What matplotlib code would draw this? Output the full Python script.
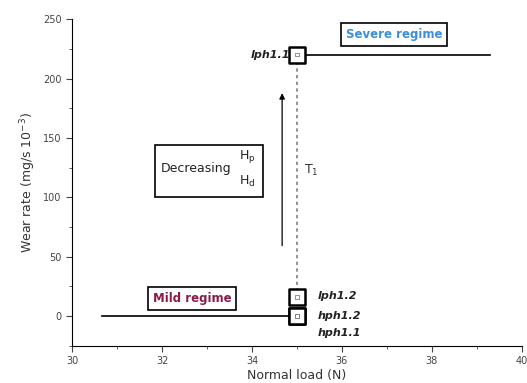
import matplotlib.pyplot as plt
from matplotlib.patches import Rectangle
from matplotlib.ticker import MultipleLocator

# data
severe_load = [35.0, 39.3]
severe_rate = [220, 220]
mild_load = [30.67, 35.0]
mild_rate = [0, 0]
sample_names = ["lph1.1", "lph1.2", "hph1.2", "hph1.1"]
sample_load = [35.0, 35.0, 35.0, 35.0]
sample_rate = [220, 16, 0, 0]
label_pos = [(34.85, 220), (35.45, 17), (35.45, 0), (35.45, -14)]
transition_load = 35.0

fig = plt.figure(figsize=(5.27, 3.83), dpi=100)
ax = fig.add_axes([0.137, 0.097, 0.853, 0.853])

ax.plot(severe_load, severe_rate, color="black", lw=1.2)
ax.plot(mild_load, mild_rate, color="black", lw=1.2)
ax.plot([transition_load, transition_load], [sample_rate[0], sample_rate[1]],
        color="gray", lw=1.2, ls=(0, (2, 2)))
ax.scatter(sample_load, sample_rate, marker="s", s=130, facecolors="white",
           edgecolors="black", linewidths=1.8, zorder=3)
ax.scatter(sample_load, sample_rate, marker="s", s=6, facecolors="none",
           edgecolors="gray", linewidths=0.6, zorder=4)

for name, (x, y) in zip(sample_names, label_pos):
    ha = "right" if name == "lph1.1" else "left"
    ax.text(x, y, name, fontsize=8, fontweight="bold", style="italic",
            ha=ha, va="center", color="#222222")

# decreasing arrow
ax.annotate("", xy=(34.67, 190), xytext=(34.67, 57),
            arrowprops=dict(arrowstyle="-|>", color="black", lw=0.9, mutation_scale=8))
ax.add_patch(Rectangle((31.84, 100), 2.4, 44, fc="white", ec="black", lw=1.2, zorder=2))
ax.text(32.75, 124, "Decreasing", fontsize=9, ha="center", va="center", color="#222222", zorder=3)
ax.text(33.72, 134, "H$_\\mathregular{p}$", fontsize=9, ha="left", va="center", color="#222222", zorder=3)
ax.text(33.72, 113, "H$_\\mathregular{d}$", fontsize=9, ha="left", va="center", color="#222222", zorder=3)
ax.text(35.15, 123, "T$_1$", fontsize=9, ha="left", va="center", color="#333333")

ax.text(37.16, 237, "Severe regime", fontsize=8.5, fontweight="bold", color="#3a8fd8",
        ha="center", va="center",
        bbox=dict(boxstyle="square,pad=0.4", fc="white", ec="black", lw=1.2))
ax.text(32.67, 15, "Mild regime", fontsize=8.5, fontweight="bold", color="#8b1a4a",
        ha="center", va="center",
        bbox=dict(boxstyle="square,pad=0.4", fc="white", ec="black", lw=1.2))

ax.set_xlim(30, 40)
ax.set_ylim(-25, 250)
ax.set_xticks([30, 32, 34, 36, 38, 40])
ax.set_yticks([0, 50, 100, 150, 200, 250])
ax.xaxis.set_minor_locator(MultipleLocator(1))
ax.yaxis.set_minor_locator(MultipleLocator(25))
ax.tick_params(which="both", direction="out", labelsize=7, colors="#444444")
ax.tick_params(which="major", length=4)
ax.tick_params(which="minor", length=2)
ax.spines["top"].set_visible(False)
ax.spines["right"].set_visible(False)
ax.set_xlabel("Normal load (N)", fontsize=9, color="#333333", labelpad=2)
ax.set_ylabel("Wear rate (mg/s 10$^{-3}$)", fontsize=9, color="#333333")

fig.savefig("out.png", dpi=100)
